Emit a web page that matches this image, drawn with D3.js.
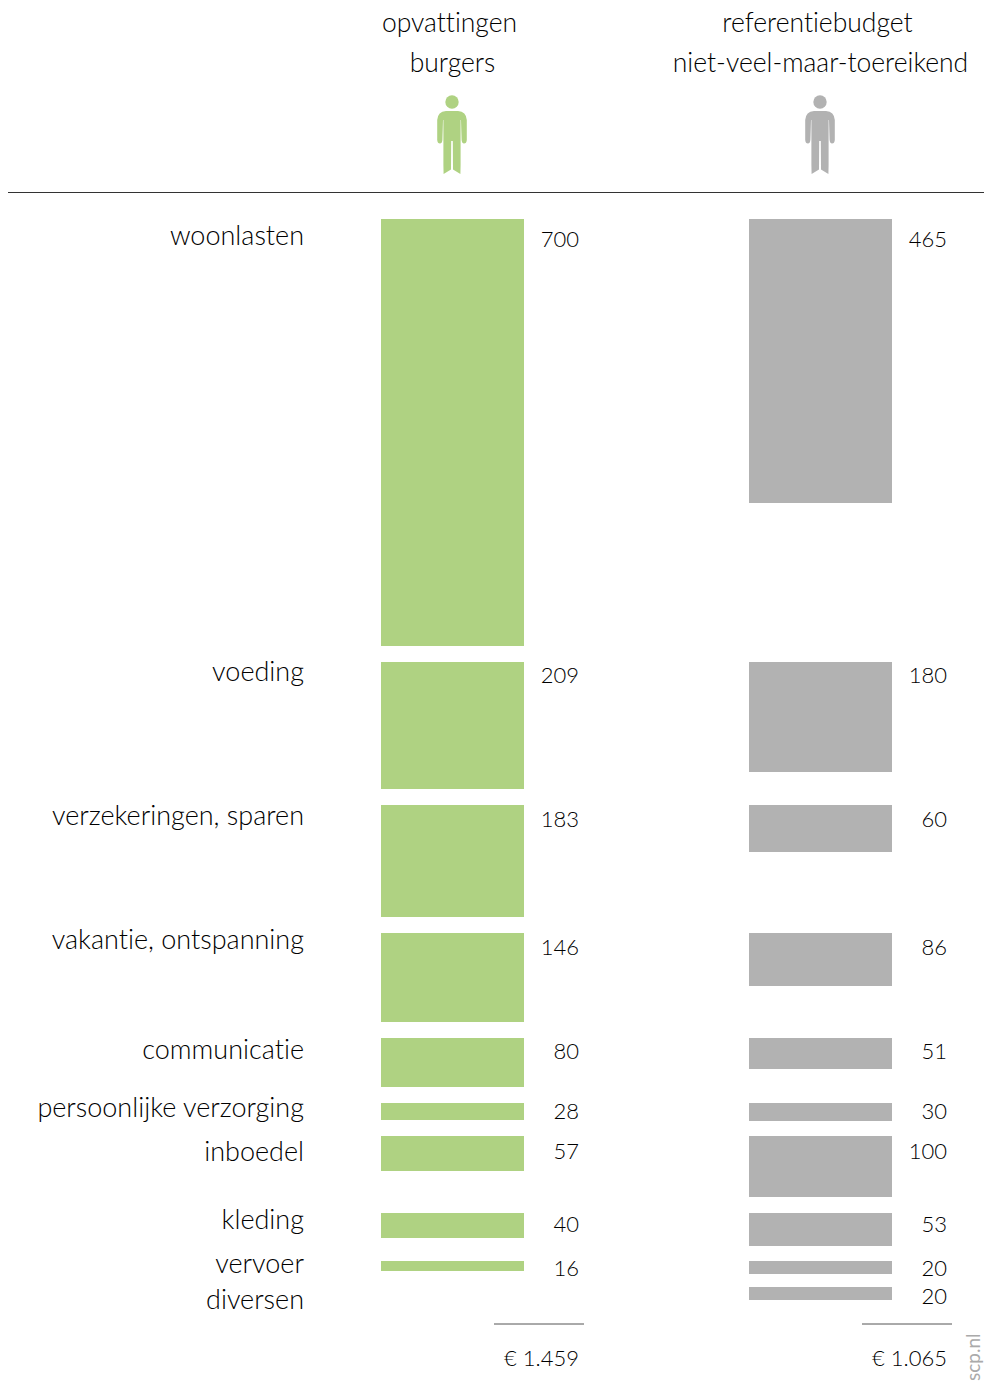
<!DOCTYPE html>
<html lang="nl">
<head>
<meta charset="UTF-8">
<title>Opvattingen burgers en referentiebudget</title>
<script src="https://d3js.org/d3.v7.min.js"></script>
<style>
  html, body { margin: 0; padding: 0; background: #fff; }
  svg { display: block; }
  text { font-family: "Lato", sans-serif; font-weight: 300; fill: #000; font-variant-ligatures: none; font-feature-settings: "liga" 0, "clig" 0; }
  .label { font-size: 27px; }
  .value { font-size: 22px; }
  .head { font-size: 26.5px; }
</style>
</head>
<body>
<svg id="chart" width="984" height="1386"></svg>
<script>
const categories = ["woonlasten", "voeding", "verzekeringen, sparen", "vakantie, ontspanning", "communicatie",
  "persoonlijke verzorging", "inboedel", "kleding", "vervoer", "diversen"];
const burgers = [700, 209, 183, 146, 80, 28, 57, 40, 16, null];
const referentie = [465, 180, 60, 86, 51, 30, 100, 53, 20, 20];
// in het origineel is de balk van 60 langer getekend dan het getal zegt
const referentieBars = [465, 180, 77, 86, 51, 30, 100, 53, 20, 20];
const seriesNames = ["burgers", "referentie"];
const seriesColors = ["#afd282", "#b2b2b2"];
const totals = ["€ 1.459", "€ 1.065"];
const headers = [["opvattingen", "burgers"], ["referentiebudget", "niet-veel-maar-toereikend"]];

// layout
const rowGaps = [16, 16, 16, 16, 16, 15, 16, 16, 13.5];
const labelBase = [245, 681, 825, 949, 1059, 1117, 1161, 1229, 1273, 1309];
const valueOffset = [28, 21, 22, 22, 21, 16, 23, 19, 15, 17];

const svg = d3.select("#chart");

const h = d3.scaleLinear().domain([0, 700]).range([0, 427]);
const x = d3.scaleBand().domain(seriesNames).range([381, 892]).paddingInner(1 - 143 / 368);

// elke rij is zo hoog als de hoogste balk, plus de ruimte eronder
const rowTop = [];
let cursor = 219;
categories.forEach((c, i) => {
  rowTop.push(cursor);
  cursor += h(Math.max(burgers[i] || 0, referentieBars[i])) + (rowGaps[i] || 0);
});
const barTop = i => Math.floor(rowTop[i] + 0.2);

// kolomkoppen
seriesNames.forEach((s, k) => {
  const cx = x(s) + x.bandwidth() / 2;
  svg.selectAll("text.head" + k)
    .data(headers[k])
    .join("text")
    .attr("class", "head head" + k)
    .attr("x", (d, i) => cx + (i === 0 ? -3 : 0))
    .attr("y", (d, i) => 32 + i * 40)
    .attr("text-anchor", "middle")
    .text(d => d);

  // poppetje
  const pop = svg.append("g")
    .attr("transform", `translate(${cx - 0.5},0)`)
    .attr("fill", seriesColors[k]);
  pop.append("circle").attr("cx", 0).attr("cy", 102).attr("r", 6.7);
  pop.append("path").attr("d",
    "M-6,111 H6 Q14.2,111.5 14.8,120 L14.8,140 Q14.5,143.5 12,143.5 Q10,143.5 9.6,140 L9,120 L8.6,120 " +
    "L8.6,165 L8.4,174 L1,169.5 L0.8,141 L-0.8,141 L-1,169.5 L-8.4,174 L-8.6,165 L-8.6,120 L-9,120 " +
    "L-9.6,140 Q-10,143.5 -12,143.5 Q-14.5,143.5 -14.8,140 L-14.8,120 Q-14.2,111.5 -6,111 Z");
});

svg.append("line")
  .attr("x1", 8).attr("x2", 984).attr("y1", 192.5).attr("y2", 192.5)
  .attr("stroke", "#333").attr("stroke-width", 1);

svg.selectAll("text.label")
  .data(categories)
  .join("text")
  .attr("class", "label")
  .attr("x", 304)
  .attr("y", (d, i) => labelBase[i])
  .attr("text-anchor", "end")
  .text(d => d);

[burgers, referentie].forEach((values, k) => {
  const s = seriesNames[k];
  const drawn = k === 0 ? burgers : referentieBars;
  const rows = values.map((v, i) => ({ v, i, bar: drawn[i] })).filter(d => d.v !== null);

  svg.selectAll("rect.bar" + k)
    .data(rows)
    .join("rect")
    .attr("class", "bar" + k)
    .attr("x", x(s))
    .attr("y", d => barTop(d.i))
    .attr("width", x.bandwidth())
    .attr("height", d => Math.round(rowTop[d.i] + h(d.bar)) - barTop(d.i))
    .attr("fill", seriesColors[k]);

  svg.selectAll("text.value" + k)
    .data(rows)
    .join("text")
    .attr("class", "value value" + k)
    .attr("x", x(s) + x.bandwidth() + 55)
    .attr("y", d => barTop(d.i) + valueOffset[d.i])
    .attr("text-anchor", "end")
    .text(d => d.v);

  // totaal
  svg.append("line")
    .attr("x1", x(s) + x.bandwidth() - 30).attr("x2", x(s) + x.bandwidth() + 60)
    .attr("y1", 1324).attr("y2", 1324)
    .attr("stroke", "#555").attr("stroke-width", 1);
  svg.append("text")
    .attr("class", "value")
    .attr("x", x(s) + x.bandwidth() + 55)
    .attr("y", 1366)
    .attr("text-anchor", "end")
    .text(totals[k]);
});

svg.append("text")
  .attr("transform", "translate(980,1381) rotate(-90)")
  .style("font-size", "19px")
  .style("font-weight", "400")
  .style("fill", "#aaa")
  .text("scp.nl");
</script>
</body>
</html>
